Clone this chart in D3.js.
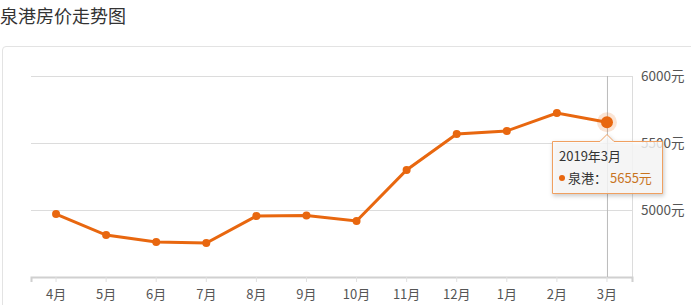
<!DOCTYPE html>
<html>
<head>
<meta charset="utf-8">
<script src="https://cdn.jsdelivr.net/npm/d3@7"></script>
<style>
body { margin: 0; background: #fff; font-family: "Noto Sans CJK SC", "Noto Sans", sans-serif; }
</style>
</head>
<body>
<script>
// data
var months = ["4月", "5月", "6月", "7月", "8月", "9月", "10月", "11月", "12月", "1月", "2月", "3月"];
var prices = [4970, 4813, 4761, 4754, 4955, 4959, 4918, 5299, 5567, 5590, 5724, 5655];
var yTicks = [5000, 5500, 6000];
var tipTitle = "2019年3月";
var seriesName = "泉港";

var w = 691, h = 305;
var plotL = 31, plotR = 632, plotT = 76, plotB = 277;
var orange = "#e8670f";

var svg = d3.select("body").append("svg")
    .attr("width", w)
    .attr("height", h);

svg.append("text")
    .attr("x", 0)
    .attr("y", 23)
    .attr("font-size", 18)
    .attr("fill", "#333")
    .text("泉港房价走势图");

// outer panel
svg.append("path")
    .attr("d", "M2.5,305 L2.5,50 Q2.5,46.5 6,46.5 L691,46.5")
    .attr("fill", "none")
    .attr("stroke", "#e3e3e3");

var x = d3.scaleBand().domain(months).range([plotL, plotR]);
var y = d3.scaleLinear().domain([4500, 6000]).range([plotB, plotT]);
var cx = function(d) { return x(d) + x.bandwidth() / 2; };

// grid
svg.selectAll("line.grid")
    .data(yTicks)
    .enter()
    .append("line")
    .attr("x1", plotL).attr("x2", plotR)
    .attr("y1", function(d) { return y(d) + 0.5; })
    .attr("y2", function(d) { return y(d) + 0.5; })
    .attr("stroke", "#dcdcdc");

svg.append("line")
    .attr("x1", plotR + 0.5).attr("x2", plotR + 0.5)
    .attr("y1", plotT).attr("y2", plotB)
    .attr("stroke", "#dcdcdc");

// x axis
var xAxis = svg.append("g")
    .attr("transform", "translate(0," + plotB + ")")
    .call(d3.axisBottom(x).tickSize(5).tickPadding(8));
xAxis.select(".domain").attr("stroke", "#d0d0d0").attr("stroke-width", 2);
xAxis.selectAll(".tick line").attr("stroke", "#e0e0e0");
xAxis.selectAll(".tick text")
    .attr("font-size", 13)
    .attr("fill", "#555")
    .attr("font-family", "Noto Sans CJK SC, sans-serif");

// y labels
svg.selectAll("text.ylab")
    .data(yTicks)
    .enter()
    .append("text")
    .attr("x", 641)
    .attr("y", function(d) { return y(d) + 5; })
    .attr("font-size", 13.5)
    .attr("fill", "#555")
    .text(function(d) { return d + "元"; });

// crosshair
var last = months[months.length - 1];
svg.append("line")
    .attr("x1", cx(last) + 0.5).attr("x2", cx(last) + 0.5)
    .attr("y1", plotT).attr("y2", plotB)
    .attr("stroke", "#bbb");

var line = d3.line()
    .x(function(d, i) { return cx(months[i]); })
    .y(function(d) { return y(d); });

svg.append("path")
    .datum(prices)
    .attr("d", line)
    .attr("fill", "none")
    .attr("stroke", orange)
    .attr("stroke-width", 3);

svg.selectAll("circle.pt")
    .data(prices)
    .enter()
    .append("circle")
    .attr("cx", function(d, i) { return cx(months[i]); })
    .attr("cy", function(d) { return y(d); })
    .attr("r", 4)
    .attr("fill", orange);

// highlighted point
var lv = prices[prices.length - 1];
svg.append("circle")
    .attr("cx", cx(last)).attr("cy", y(lv))
    .attr("r", 10).attr("fill", orange).attr("opacity", 0.18);
svg.append("circle")
    .attr("cx", cx(last)).attr("cy", y(lv))
    .attr("r", 6).attr("fill", orange);

// tooltip
var tx = 552, ty = 141, tw = 110, th = 52;
var ax = cx(last);
var tip = svg.append("g");
tip.append("path")
    .attr("d", "M" + (tx + 0.5) + "," + (ty + 0.5) +
        " L" + (ax - 7) + "," + (ty + 0.5) +
        " L" + ax + "," + (ty - 6.5) +
        " L" + (ax + 7) + "," + (ty + 0.5) +
        " L" + (tx + tw + 0.5) + "," + (ty + 0.5) +
        " L" + (tx + tw + 0.5) + "," + (ty + th + 0.5) +
        " L" + (tx + 0.5) + "," + (ty + th + 0.5) + " Z")
    .attr("fill", "rgba(255,255,255,0.8)")
    .attr("stroke", "#f0a060")
    .attr("stroke-width", 1)
    .style("filter", "drop-shadow(1px 2px 2px rgba(0,0,0,0.25))");
tip.append("text")
    .attr("x", tx + 7).attr("y", ty + 20)
    .attr("font-size", 13).attr("fill", "#333")
    .text(tipTitle);
tip.append("circle")
    .attr("cx", tx + 10).attr("cy", ty + 37)
    .attr("r", 3).attr("fill", orange);
tip.append("text")
    .attr("x", tx + 16).attr("y", ty + 42)
    .attr("font-size", 13).attr("fill", "#333")
    .text(seriesName + "：");
tip.append("text")
    .attr("x", tx + 58).attr("y", ty + 42)
    .attr("font-size", 13).attr("fill", "#c8741f")
    .text(lv + "元");
</script>
</body>
</html>
